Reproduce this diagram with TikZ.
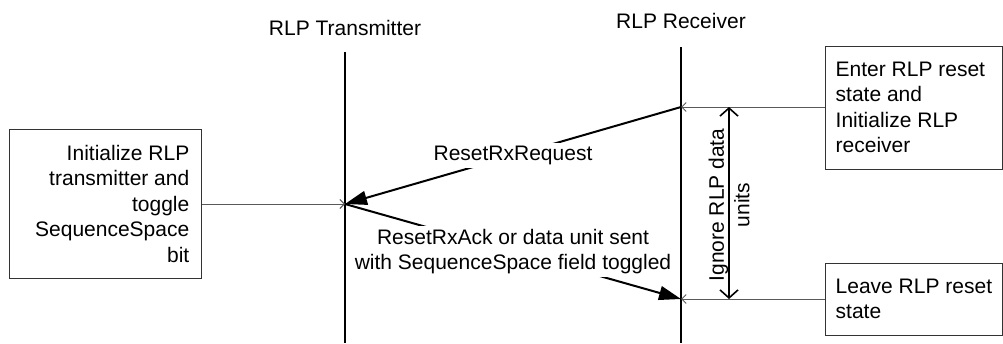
\documentclass[tikz,border=0pt]{standalone}
\usepackage{fontspec}
\setmainfont{Liberation Sans}
\usetikzlibrary{arrows.meta}
\begin{document}
\begin{tikzpicture}[x=1pt,y=-1pt,
  txt/.style={font=\fontsize{21}{25.5}\selectfont, inner sep=0pt},
  statebox/.style={draw=black!80, line width=1pt, inner sep=0pt},
  lifeline/.style={line width=2pt, black},
  conn/.style={draw=black!65, line width=1pt, -{Straight Barb[length=4.5pt,width=9pt]}},
  msg/.style={line width=2pt, black, -{Triangle[length=22pt,width=14pt]}},
  lbl/.style={txt, fill=white, inner sep=3pt},
  spanarrow/.style={line width=1.6pt, black, {Straight Barb[length=8pt,width=18pt]}-{Straight Barb[length=8pt,width=18pt]}}]
\useasboundingbox (0,0) rectangle (1003,343);

% lifelines and their titles
\node[txt, anchor=base] (txname) at (345,35) {RLP Transmitter};
\node[txt, anchor=base] (rxname) at (681,28) {RLP Receiver};
\coordinate (txtop) at (345,52);
\coordinate (txbot) at (345,343);
\coordinate (rxtop) at (681,47);
\coordinate (rxbot) at (681,343);
\draw[lifeline] (txtop) -- (txbot);
\draw[lifeline] (rxtop) -- (rxbot);

% event points on the lifelines
\coordinate (tx1) at (345,204);
\coordinate (rx1) at (681,107);
\coordinate (rx2) at (681,299);
\coordinate (ig1) at (729,107);
\coordinate (ig2) at (729,299);

% state boxes
\node[statebox, minimum width=192pt, minimum height=149pt] (init) at (105,203.5) {};
\node[txt, anchor=east, align=right] (inittext) at ([xshift=-12pt]init.east)
  {Initialize RLP\\transmitter and\\toggle\\SequenceSpace\\bit};

\node[statebox, minimum width=177pt, minimum height=123pt] (enter) at (913.5,107.5) {};
\node[txt, anchor=west, align=left] (entertext) at ([xshift=11pt]enter.west)
  {Enter RLP reset\\state and\\Initialize RLP\\receiver};

\node[statebox, minimum width=177pt, minimum height=72pt] (leave) at (913.5,299) {};
\node[txt, anchor=west, align=left] (leavetext) at ([xshift=11pt]leave.west)
  {Leave RLP reset\\state};

% box connectors
\draw[conn] (init.east |- tx1) -- (tx1);
\draw[conn] (enter.west |- rx1) -- (rx1);
\draw[conn] (leave.west |- rx2) -- (rx2);

% messages
\draw[msg] (rx1) -- node[lbl] (req) {ResetRxRequest} (tx1);
\draw[msg] (tx1) -- node[lbl, align=center] (ack)
  {ResetRxAck or data unit sent\\with SequenceSpace field toggled} (rx2);

% ignore interval
\draw[spanarrow] (ig1) -- (ig2);
\node[txt, rotate=90, align=center] (ignore) at (729,205) {Ignore RLP data\\units};
\end{tikzpicture}
\end{document}
